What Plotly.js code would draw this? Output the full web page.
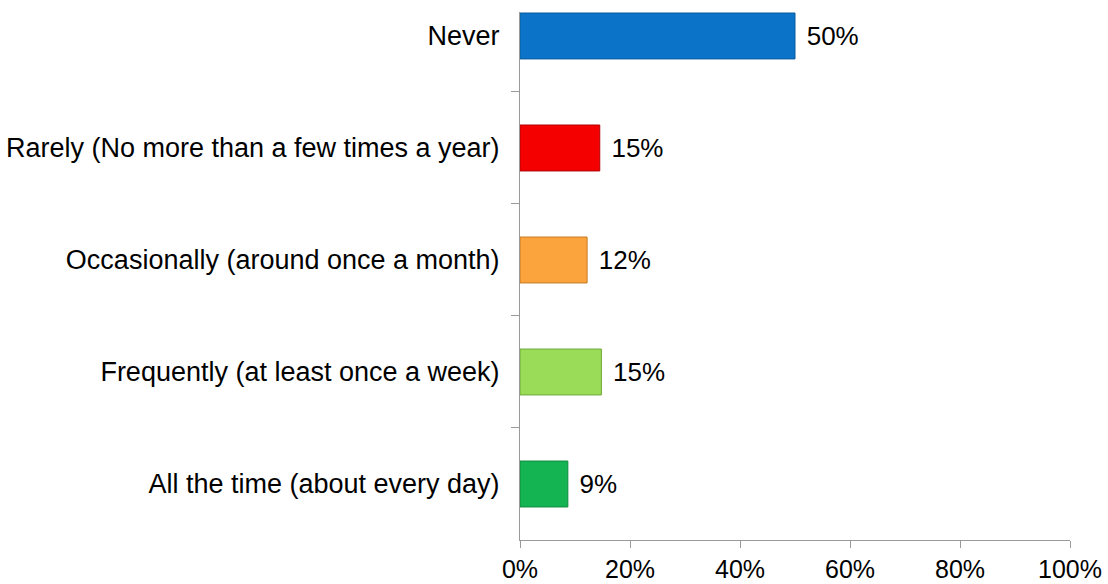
<!DOCTYPE html>
<html>
<head>
<meta charset="utf-8">
<script src="https://cdn.plot.ly/plotly-3.0.1.min.js"></script>
<style>html,body{margin:0;padding:0;background:#fff;}#chart{width:1108px;height:584px;}</style>
</head>
<body>
<div id="chart"></div>
<script>
const categories = [
  "Never",
  "Rarely (No more than a few times a year)",
  "Occasionally (around once a month)",
  "Frequently (at least once a week)",
  "All the time (about every day)"
];
const values = [50, 14.5, 12.2, 14.8, 8.7];
const valueLabels = ["50%", "15%", "12%", "15%", "9%"];
const barColors = ["#0B74C9", "#F50000", "#FBA43E", "#9ADB57", "#14B453"];
const borderColors = ["#0A5A9C", "#B00000", "#C77A20", "#6FA83A", "#0E8A3E"];
const xTickValues = [0, 20, 40, 60, 80, 100];
const xTickLabels = ["0%", "20%", "40%", "60%", "80%", "100%"];

const font = "Liberation Sans, Arial, sans-serif";

const trace = {
  type: "bar",
  orientation: "h",
  y: categories,
  x: values,
  width: 0.41,
  text: valueLabels.map(t => "\u2004" + t),
  textposition: "outside",
  constraintext: "none",
  cliponaxis: false,
  textfont: {family: font, size: 26, color: "#000"},
  marker: {color: barColors, line: {color: borderColors, width: 1}},
  hoverinfo: "none"
};

const layout = {
  width: 1108,
  height: 584,
  margin: {l: 520, r: 38, t: 12, b: 44},
  paper_bgcolor: "#fff",
  plot_bgcolor: "#fff",
  showlegend: false,
  font: {family: font, size: 26, color: "#000"},
  xaxis: {
    range: [0, 100],
    tickvals: xTickValues,
    ticktext: xTickLabels,
    showgrid: false,
    zeroline: false,
    showline: true,
    linecolor: "#9a9a9a",
    linewidth: 1,
    ticks: "outside",
    ticklen: 7,
    tickcolor: "#9a9a9a",
    tickfont: {family: font, size: 25, color: "#000"},
    fixedrange: true
  },
  yaxis: {
    type: "category",
    range: [4.5, -0.214],
    showgrid: false,
    zeroline: false,
    showline: true,
    linecolor: "#9a9a9a",
    linewidth: 1,
    ticks: "outside",
    tickson: "boundaries",
    ticklen: 8,
    tickcolor: "#9a9a9a",
    ticklabelstandoff: 14,
    tickfont: {family: font, size: 27, color: "#000"},
    fixedrange: true
  }
};

Plotly.newPlot("chart", [trace], layout, {staticPlot: true, displayModeBar: false});
</script>
</body>
</html>
